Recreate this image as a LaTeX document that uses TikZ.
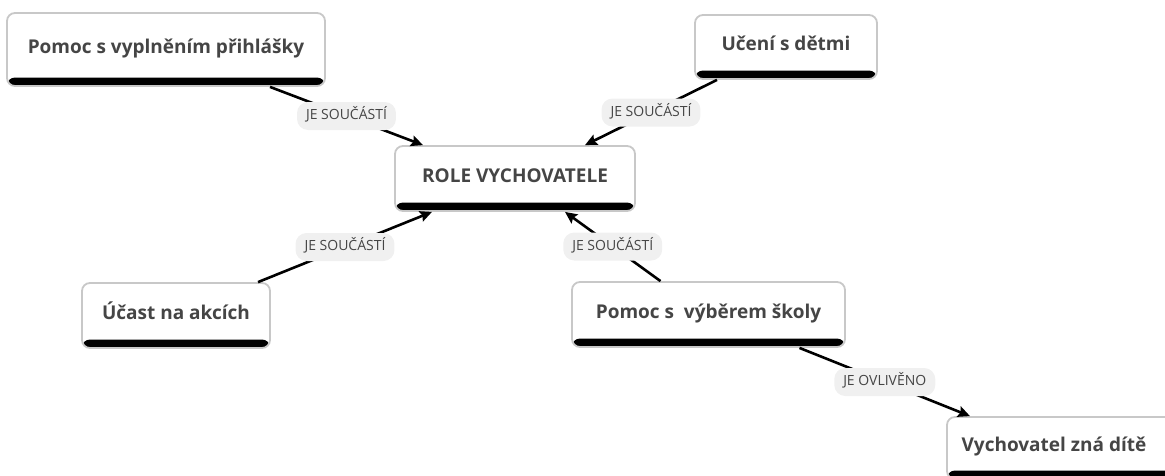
\documentclass[tikz,border=0pt]{standalone}
\usepackage{fontspec}
\setmainfont{Open Sans}
\usetikzlibrary{arrows.meta,calc}
\definecolor{txt}{HTML}{454545}
\definecolor{bord}{HTML}{C8C8C8}
\definecolor{pill}{HTML}{F0F0F0}
\tikzset{
 concept/.style={draw=bord, line width=1.8pt, fill=white, rounded corners=8pt,
   text=txt, font=\bfseries\fontsize{19}{22}\selectfont, inner sep=0pt,
   text height=0.71em, text depth=0pt,
   path picture={\fill[black] ([yshift=8.5pt]path picture bounding box.south west) rectangle (path picture bounding box.south east);}},
 conn/.style={line width=2.6pt, -{Stealth[length=12pt,width=11pt,inset=2pt]}},
 lbl/.style={fill=pill, rounded corners=11pt, text=txt, font=\fontsize{14}{16}\selectfont,
   inner xsep=9pt, inner ysep=0pt, minimum height=28pt, text height=0.71em, text depth=0pt}
}
\begin{document}
\begin{tikzpicture}[x=1pt,y=-1pt]
\useasboundingbox (0,0) rectangle (1165,475);
\clip (0,0) rectangle (1165,475);
\node[concept, minimum width=318pt, minimum height=73pt] (b1) at (166,49.5) {Pomoc s vyplněním přihlášky};
\node[concept, minimum width=182pt, minimum height=64pt] (b2) at (786,47) {Učení s dětmi};
\node[concept, minimum width=240pt, minimum height=65pt] (b3) at (515,178.5) {ROLE VYCHOVATELE};
\node[concept, minimum width=188pt, minimum height=65pt] (b4) at (176,315.5) {Účast na akcích};
\node[concept, minimum width=273pt, minimum height=65pt] (b5) at (708.5,314.5) {Pomoc s\ \ výběrem školy};
\node[concept, minimum width=240pt, minimum height=62pt] (b6) at (1067,448) {\hspace*{-26pt}Vychovatel zná dítě};

\draw[conn] ([xshift=104pt]b1.south) -- node[lbl]{JE SOUČÁSTÍ} ([xshift=-92pt]b3.north);
\draw[conn] ([xshift=-69pt]b2.south) -- node[lbl]{JE SOUČÁSTÍ} ([xshift=70pt]b3.north);
\draw[conn] ([xshift=82pt]b4.north) -- node[lbl]{JE SOUČÁSTÍ} ([xshift=-83pt]b3.south);
\draw[conn] ([xshift=-48pt]b5.north) -- node[lbl]{JE SOUČÁSTÍ} ([xshift=50pt]b3.south);
\draw[conn] ([xshift=91pt]b5.south) -- node[lbl]{JE OVLIVĚNO} ([xshift=-97pt]b6.north);
\end{tikzpicture}
\end{document}
